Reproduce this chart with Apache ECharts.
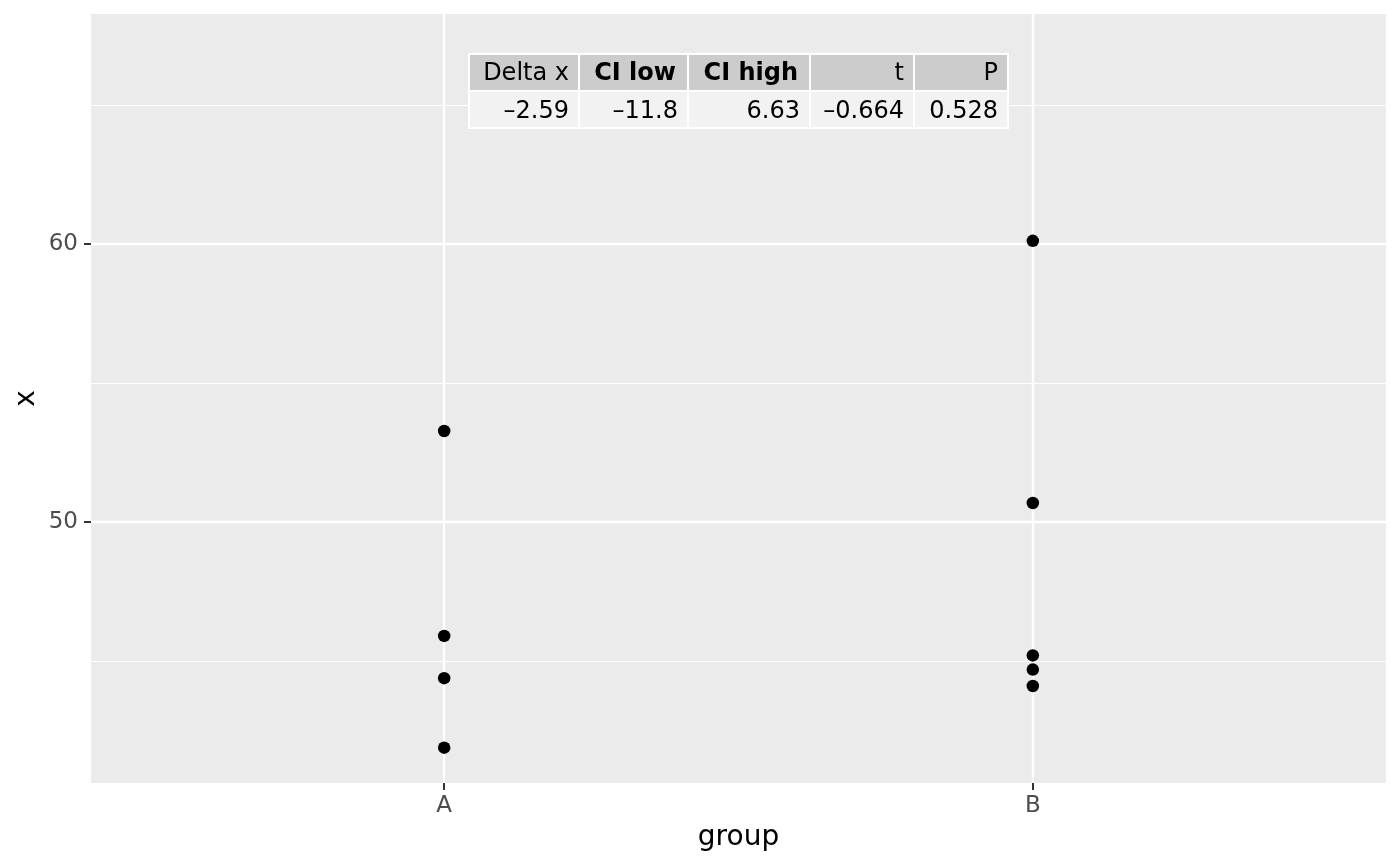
<!DOCTYPE html>
<html>
<head>
<meta charset="utf-8">
<script src="https://cdn.jsdelivr.net/npm/echarts@6/dist/echarts.min.js"></script>
<style>html,body{margin:0;padding:0;background:#fff}#c{width:1400px;height:866px}</style>
</head>
<body>
<div id="c"></div>
<script>
const groups = ['A', 'B'];
const valuesA = [53.27, 45.90, 44.38, 41.88];
const valuesB = [60.11, 50.68, 45.20, 44.69, 44.10];
const yMajorTicks = [50, 60];
const yMinorTicks = [45, 55, 65];
const tableHeader = ['Delta x', 'CI low', 'CI high', 't', 'P'];
const tableHeaderBold = [false, true, true, false, false];
const tableValues = ['\u20132.59', '\u201311.8', '6.63', '\u20130.664', '0.528'];

const FONT = 'DejaVu Sans';
const chart = echarts.init(document.getElementById('c'), null, {renderer: 'canvas'});

const points = [];
valuesA.forEach(v => points.push([1, v]));
valuesB.forEach(v => points.push([2, v]));

// table layout (annotation)
const colEdges = [469, 579, 688, 810, 914, 1008];
const rowEdges = [54, 91, 128];
const tableEls = [];
for (let r = 0; r < 2; r++) {
  for (let c = 0; c < 5; c++) {
    const x0 = colEdges[c], x1 = colEdges[c + 1], y0 = rowEdges[r], y1 = rowEdges[r + 1];
    const bold = r === 0 && tableHeaderBold[c];
    tableEls.push({
      type: 'rect', shape: {x: x0, y: y0, width: x1 - x0, height: y1 - y0},
      style: {fill: r === 0 ? '#cccccc' : '#f2f2f2', stroke: '#ffffff', lineWidth: 2}, z: 10
    });
    tableEls.push({
      type: 'text', x: x1 - (bold ? 12 : 10), y: (y0 + y1) / 2 + (r === 0 ? 1.5 : 2.5), z: 11,
      style: {
        text: r === 0 ? tableHeader[c] : tableValues[c],
        fill: '#000', font: (bold ? 'bold ' : '') + '24px "' + FONT + '"',
        align: 'right', verticalAlign: 'middle'
      }
    });
  }
}

const gridLines = [];
yMajorTicks.forEach(v => gridLines.push({yAxis: v, lineStyle: {width: 2.3}}));
yMinorTicks.forEach(v => gridLines.push({yAxis: v, lineStyle: {width: 1.2}}));
[1, 2].forEach(v => gridLines.push({xAxis: v, lineStyle: {width: 2.3}}));

chart.setOption({
  backgroundColor: '#ffffff',
  animation: false,
  textStyle: {fontFamily: FONT},
  grid: {left: 91, right: 14, top: 14, bottom: 83, show: true, backgroundColor: '#ebebeb', borderWidth: 0},
  xAxis: {
    type: 'value', min: 0.4, max: 2.6,
    name: 'group', nameLocation: 'middle', nameGap: 41,
    nameTextStyle: {fontSize: 28, color: '#000', fontFamily: FONT},
    axisLine: {show: false},
    axisTick: {show: true, customValues: [1, 2], length: 7, lineStyle: {color: '#333333', width: 2}},
    axisLabel: {customValues: [1, 2], formatter: v => groups[Math.round(v) - 1] || '', fontSize: 23, color: '#4d4d4d', margin: 12, fontFamily: FONT},
    splitLine: {show: false}
  },
  yAxis: {
    type: 'value', min: 40.61, max: 68.27,
    name: 'x', nameLocation: 'middle', nameGap: 50, nameRotate: 90, nameMoveOverlap: false,
    nameTextStyle: {fontSize: 28, color: '#000', fontFamily: FONT},
    axisLine: {show: false},
    axisTick: {show: true, customValues: yMajorTicks, length: 7, lineStyle: {color: '#333333', width: 2}},
    axisLabel: {customValues: yMajorTicks, fontSize: 23, color: '#4d4d4d', margin: 13, fontFamily: FONT},
    splitLine: {show: false}
  },
  series: [
    {
      type: 'scatter', data: [], z: 1, silent: true,
      markLine: {
        silent: true, symbol: 'none', label: {show: false}, animation: false,
        lineStyle: {color: '#ffffff', type: 'solid'},
        data: gridLines
      }
    },
    {
      type: 'scatter', data: points, z: 5, symbol: 'circle', symbolSize: 12.5,
      itemStyle: {color: '#000000', opacity: 1}
    }
  ],
  graphic: [{type: 'group', z: 10, children: tableEls}]
});
</script>
</body>
</html>
